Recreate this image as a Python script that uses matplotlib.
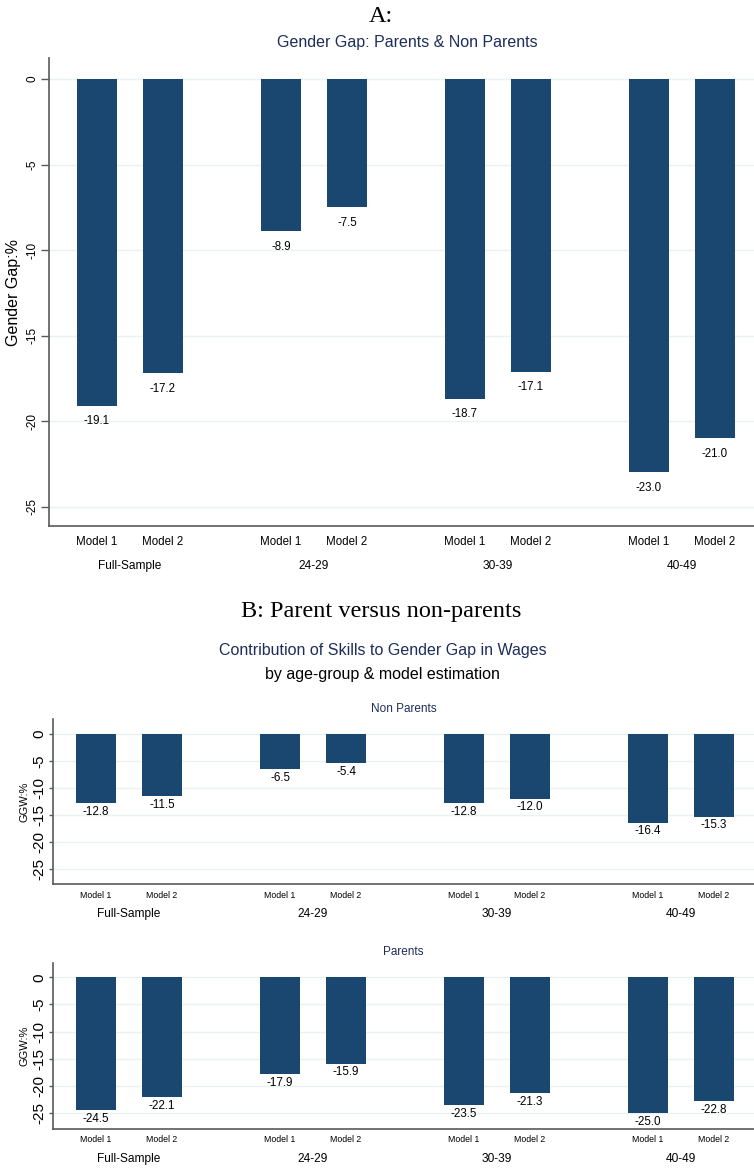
import matplotlib
matplotlib.use("Agg")
import matplotlib.pyplot as plt
import matplotlib.transforms as mtransforms
import numpy as np

# data
groups = ["Full-Sample", "24-29", "30-39", "40-49"]
models = ["Model 1", "Model 2"]
gap_all = [[-19.1, -17.2], [-8.9, -7.5], [-18.7, -17.1], [-23.0, -21.0]]
ggw_nonparents = [[-12.8, -11.5], [-6.5, -5.4], [-12.8, -12.0], [-16.4, -15.3]]
ggw_parents = [[-24.5, -22.1], [-17.9, -15.9], [-23.5, -21.3], [-25.0, -22.8]]
yticks = [0, -5, -10, -15, -20, -25]

BAR = "#1a476f"
NAVY = "#1e2d5a"
GRID = "#eaf2f3"
SPINE = "#5a5a5a"
SANS = "Liberation Sans"
SERIF = "Liberation Serif"

W, H = 754, 1168
GROUP_STEP = 184 / 66  # distance between groups, in units of the within-group step


def px_box(left, top, right, bottom):
    return [left / W, 1 - bottom / H, (right - left) / W, (bottom - top) / H]


def bar_panel(ax, values, ylim, xlim, tick_fs, tick_len, model_fs, val_fs,
              val_off, model_off, group_off, ylabel, ylabel_fs, ylabel_pad):
    vals = np.array(values)
    pos = np.array([[g * GROUP_STEP + m for m in range(2)] for g in range(len(groups))])
    ax.bar(pos.ravel(), vals.ravel(), width=0.606, color=BAR, zorder=3)
    ax.set_ylim(*ylim)
    ax.set_xlim(*xlim)
    ax.set_yticks(yticks)
    ax.set_yticklabels([str(t) for t in yticks], rotation=90, va="center",
                       fontsize=tick_fs, family=SANS)
    ax.tick_params(axis="y", length=tick_len, width=1, color=SPINE, pad=2)
    ax.set_xticks([])
    ax.grid(axis="y", color=GRID, linewidth=1, zorder=0)
    for s in ["top", "right"]:
        ax.spines[s].set_visible(False)
    for s in ["left", "bottom"]:
        ax.spines[s].set_color(SPINE)
        ax.spines[s].set_linewidth(1.2)
    ax.set_ylabel(ylabel, fontsize=ylabel_fs, family=SANS, labelpad=ylabel_pad)

    trans = mtransforms.blended_transform_factory(ax.transData, ax.transAxes)
    for g in range(len(groups)):
        for m in range(2):
            x, v = pos[g, m], vals[g, m]
            ax.annotate(f"{v:.1f}", (x, v), xytext=(0, -val_off), textcoords="offset pixels",
                        ha="center", va="center", fontsize=val_fs, family=SANS,
                        annotation_clip=False)
            ax.annotate(models[m], (x, 0), xycoords=trans, xytext=(0, -model_off),
                        textcoords="offset pixels", ha="center", va="center",
                        fontsize=model_fs, family=SANS, annotation_clip=False)
        ax.annotate(groups[g], (pos[g].mean(), 0), xycoords=trans, xytext=(0, -group_off),
                    textcoords="offset pixels", ha="center", va="center",
                    fontsize=8.6, family=SANS, annotation_clip=False)


fig = plt.figure(figsize=(W / 100, H / 100), dpi=100)

# panel A
axA = fig.add_axes(px_box(49, 58, 754, 526))
bar_panel(axA, gap_all, (-26.13, 1.23), (-0.727, 9.955), tick_fs=8.5, tick_len=5.8,
          model_fs=8.3, val_fs=8.3, val_off=15.5, model_off=15.5, group_off=40,
          ylabel="Gender Gap:%", ylabel_fs=11.5, ylabel_pad=4)

# panel B
axN = fig.add_axes(px_box(53, 719, 754, 884.3))
bar_panel(axN, ggw_nonparents, (-27.77, 2.71), (-0.652, 9.97), tick_fs=11, tick_len=3,
          model_fs=6.3, val_fs=8.4, val_off=8.7, model_off=11.7, group_off=30,
          ylabel="GGW:%", ylabel_fs=8, ylabel_pad=2)

axP = fig.add_axes(px_box(53, 962.7, 754, 1128.7))
bar_panel(axP, ggw_parents, (-27.89, 2.69), (-0.652, 9.97), tick_fs=11, tick_len=3,
          model_fs=6.3, val_fs=8.4, val_off=8.7, model_off=11.3, group_off=30.6,
          ylabel="GGW:%", ylabel_fs=8, ylabel_pad=2)


def ftext(xpx, ypx, s, **kw):
    fig.text(xpx / W, 1 - ypx / H, s, ha="center", va="center", **kw)


ftext(381, 17, "A:", fontsize=17.5, family=SERIF)
ftext(407, 43, "Gender Gap: Parents & Non Parents", fontsize=11.5, family=SANS, color=NAVY)
ftext(381, 612, "B: Parent versus non-parents", fontsize=17.5, family=SERIF)
ftext(383, 651, "Contribution of Skills to Gender Gap in Wages", fontsize=11.5, family=SANS, color=NAVY)
ftext(382, 675, "by age-group & model estimation", fontsize=11.5, family=SANS)
ftext(404, 709, "Non Parents", fontsize=8.5, family=SANS, color=NAVY)
ftext(403.5, 952, "Parents", fontsize=8.5, family=SANS, color=NAVY)

fig.savefig("out.png", dpi=100)
